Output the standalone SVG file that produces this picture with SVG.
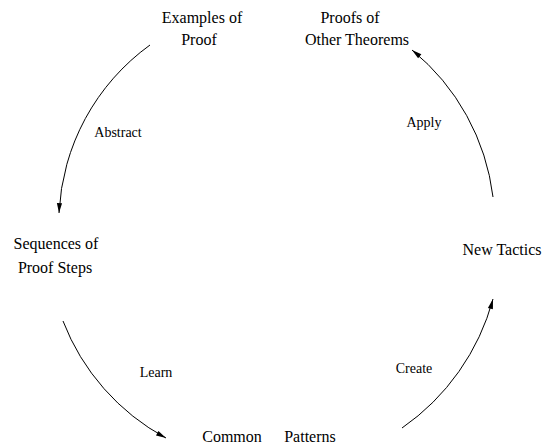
<svg xmlns="http://www.w3.org/2000/svg" width="544" height="445" viewBox="0 0 544 445">
<style>
  .node { font-family: "Liberation Serif", "Times New Roman", serif; font-size: 16px; fill: #000; text-anchor: middle; }
  .elabel { font-family: "Liberation Serif", "Times New Roman", serif; font-size: 14px; fill: #000; text-anchor: middle; }
  .edge { fill: none; stroke: #000; stroke-width: 1; marker-end: url(#arrow); }
</style>
<defs>
  <marker id="arrow" markerUnits="userSpaceOnUse" markerWidth="12" markerHeight="8" refX="10" refY="0" viewBox="0 -4 12 8" orient="auto" overflow="visible">
    <path d="M0,-2.6 L10,0 L0,2.6 z" fill="#000"/>
  </marker>
</defs>
<rect width="544" height="445" fill="#fff"/>
<g id="connectors">
  <path class="edge" d="M150,45 A220,220 0 0 0 59,213"/>
  <path class="edge" d="M63,321 A225,225 0 0 0 166,438"/>
  <path class="edge" d="M402,428 A230,230 0 0 0 493,299"/>
  <path class="edge" d="M493,197 A225,225 0 0 0 412,50"/>
  <text class="elabel" x="118" y="137">Abstract</text>
  <text class="elabel" x="156" y="377">Learn</text>
  <text class="elabel" x="414" y="373">Create</text>
  <text class="elabel" x="424" y="127">Apply</text>
</g>
<g id="node-examples">
  <text class="node" x="202" y="23">Examples of</text>
  <text class="node" x="199" y="45">Proof</text>
</g>
<g id="node-proofs">
  <text class="node" x="350" y="23">Proofs of</text>
  <text class="node" x="357" y="45">Other Theorems</text>
</g>
<g id="node-sequences">
  <text class="node" x="56" y="249">Sequences of</text>
  <text class="node" x="55" y="273">Proof Steps</text>
</g>
<g id="node-patterns">
  <text class="node" x="232" y="442">Common</text>
  <text class="node" x="310" y="442">Patterns</text>
</g>
<g id="node-tactics">
  <text class="node" x="502" y="255">New Tactics</text>
</g>
</svg>
